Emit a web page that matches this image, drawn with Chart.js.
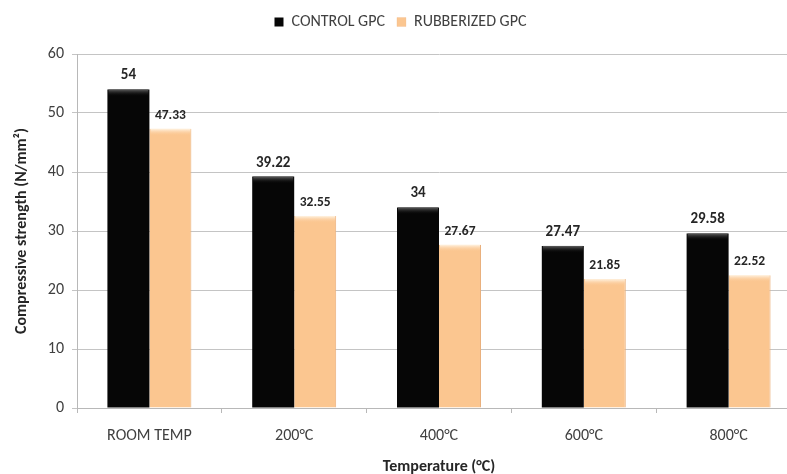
<!DOCTYPE html>
<html>
<head>
<meta charset="utf-8">
<script src="https://cdn.jsdelivr.net/npm/chart.js@4.4.1/dist/chart.umd.min.js"></script>
<style>
  html, body { margin: 0; padding: 0; background: #fff; overflow: hidden; width: 787px; height: 474px; }
  #wrap { width: 816px; height: 474px; }
</style>
</head>
<body>
<div id="wrap"><canvas id="c" width="816" height="474"></canvas></div>
<script>
// Compressive strength of control vs rubberized geopolymer concrete after heating
const categories = ['ROOM TEMP', '200°C', '400°C', '600°C', '800°C'];
const seriesNames = ['CONTROL GPC', 'RUBBERIZED GPC'];
const controlGPC = [54, 39.22, 34, 27.47, 29.58];
const rubberizedGPC = [47.33, 32.55, 27.67, 21.85, 22.52];
const yTicks = [0, 10, 20, 30, 40, 50, 60];

const FONT = "Carlito, Lato, 'Liberation Sans', sans-serif";
const BLACK = '#060606';
const PEACH = '#FBC690';

// Extra room between the legend and the plot area
const legendGap = {
  id: 'legendGap',
  beforeLayout(chart) {
    const lg = chart.legend;
    if (lg && !lg._gapPatched) {
      const fit = lg.fit;
      lg.fit = function () { fit.call(this); this.height += 14; };
      lg._gapPatched = true;
    }
  }
};

// Soft highlight along the top of every bar
const bevel = {
  id: 'bevel',
  afterDatasetsDraw(chart) {
    const ctx = chart.ctx;
    chart.data.datasets.forEach((ds, i) => {
      chart.getDatasetMeta(i).data.forEach(bar => {
        const { x, y, width } = bar.getProps(['x', 'y', 'width'], true);
        const l = x - width / 2;
        const g = ctx.createLinearGradient(0, y, 0, y + 7);
        g.addColorStop(0, i ? '#fff4e4' : '#606060');
        g.addColorStop(1, i ? 'rgba(251,198,144,0)' : 'rgba(6,6,6,0)');
        ctx.save();
        ctx.fillStyle = g;
        ctx.fillRect(l + 1, y, width - 2, 7);
        ctx.restore();
      });
    });
  }
};

// Value labels above the bars
const labelSizes = [15, 13.5];
const valueLabels = {
  id: 'valueLabels',
  afterDatasetsDraw(chart) {
    const ctx = chart.ctx;
    ctx.save();
    ctx.fillStyle = '#262626';
    ctx.textAlign = 'center';
    ctx.textBaseline = 'alphabetic';
    chart.data.datasets.forEach((ds, i) => {
      ctx.font = 'bold ' + labelSizes[i] + 'px ' + FONT;
      chart.getDatasetMeta(i).data.forEach((bar, j) => {
        const { x, y } = bar.getProps(['x', 'y'], true);
        ctx.fillText(String(ds.data[j]), x, y - 10);
      });
    });
    ctx.restore();
  }
};

new Chart(document.getElementById('c'), {
  type: 'bar',
  data: {
    labels: categories,
    datasets: [
      { label: seriesNames[0], data: controlGPC, backgroundColor: BLACK, borderColor: BLACK, borderWidth: 0 },
      { label: seriesNames[1], data: rubberizedGPC, backgroundColor: PEACH, borderColor: '#e9b07c', borderWidth: { left: 0, right: 1, top: 0, bottom: 0 } }
    ]
  },
  options: {
    responsive: false,
    animation: false,
    devicePixelRatio: 1,
    layout: { padding: { left: 0, right: 15, top: 2, bottom: 0 } },
    datasets: { bar: { categoryPercentage: 0.58, barPercentage: 1.0 } },
    plugins: {
      legend: {
        position: 'top',
        labels: {
          boxWidth: 9, boxHeight: 9, padding: 12,
          color: '#404040',
          font: { family: FONT, size: 16 }
        }
      },
      tooltip: { enabled: false }
    },
    scales: {
      x: {
        grid: { display: true, drawOnChartArea: false, drawTicks: true, tickLength: 5, offset: true, color: '#b8b8b8' },
        border: { color: '#b8b8b8' },
        ticks: { color: '#404040', font: { family: FONT, size: 16 }, padding: 13 },
        title: { display: true, text: 'Temperature (°C)', color: '#262626', font: { family: FONT, size: 16, weight: 'bold', lineHeight: 1 }, padding: { top: 2, bottom: -1 } },
        afterFit(scale) { scale.height = 66; }
      },
      y: {
        min: 0, max: 60,
        afterBuildTicks(scale) { scale.ticks = yTicks.map(v => ({ value: v })); },
        grid: { color: '#c4c4c4', tickLength: 5 },
        border: { color: '#b8b8b8' },
        ticks: { color: '#404040', font: { family: FONT, size: 16 }, padding: 8 },
        title: { display: true, text: 'Compressive strength (N/mm²)', color: '#262626', font: { family: FONT, size: 16, weight: 'bold' }, padding: { top: 12, bottom: 4 } },
        afterFit(scale) { scale.width = 77; }
      }
    }
  },
  plugins: [legendGap, bevel, valueLabels]
});
</script>
</body>
</html>
